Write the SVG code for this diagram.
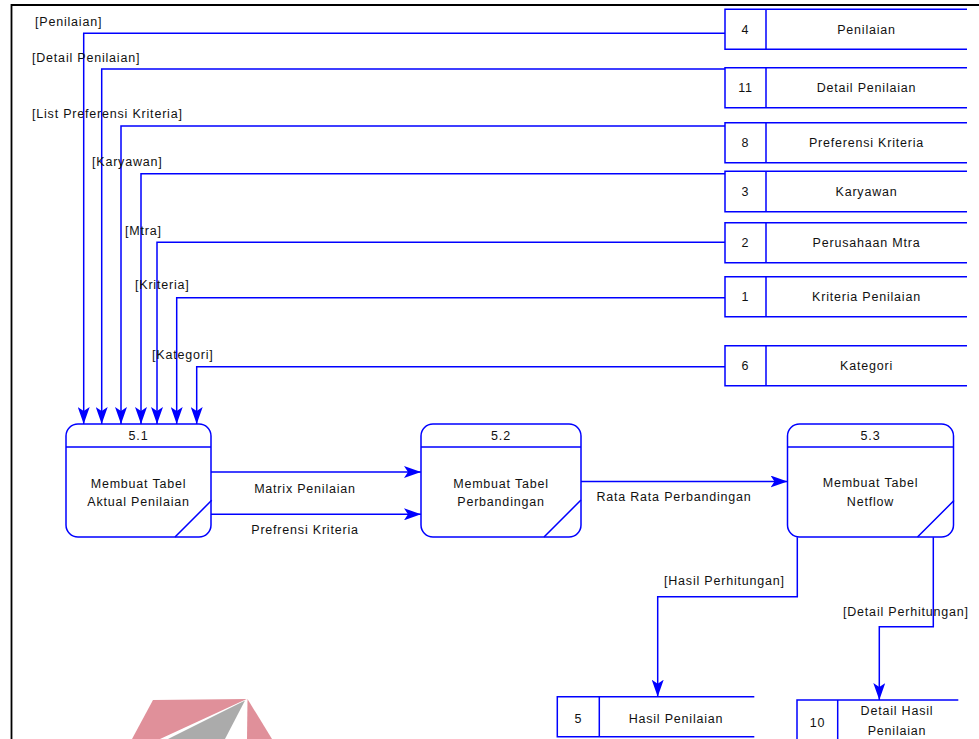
<svg xmlns="http://www.w3.org/2000/svg" width="979" height="739" viewBox="0 0 979 739">
  <style>
    .frame { fill: none; stroke: #000; stroke-width: 1.8; }
    .flow { fill: none; stroke: #0000ff; stroke-width: 1.5; }
    .arrowed { marker-end: url(#arrow); }
    .proc { fill: #fff; stroke: #0000ff; stroke-width: 1.5; }
    .edge { fill: none; stroke: #0000ff; stroke-width: 1.5; }
    .store { fill: none; stroke: #0000ff; stroke-width: 1.5; }
    text { font-family: "Liberation Sans", Arial, sans-serif; font-size: 12.5px; letter-spacing: 0.8px; fill: #111; }
    .c { text-anchor: middle; }
    .logo-red { fill: #e0909a; }
    .logo-grey { fill: #ababab; }
  </style>
  <defs>
    <marker id="arrow" viewBox="0 0 17 12" refX="17" refY="6" markerWidth="17" markerHeight="12" markerUnits="userSpaceOnUse" orient="auto">
      <path d="M0,0 L17,6 L0,12 L4,6 Z" fill="#0000ff"/>
    </marker>
  </defs>

  <!-- page frame -->
  <path class="frame" d="M11.5,739 V5 H979"/>

  <!-- watermark emblem at bottom edge -->
  <g id="emblem">
    <path class="logo-red" d="M153,700 L246.7,699 L160,739 L132,739 Z"/>
    <path class="logo-grey" d="M245,700.5 L225,739 L168,739 Z"/>
    <path class="logo-red" d="M247.5,699 L272,739 L247,739 Z"/>
  </g>

  <!-- data flows -->
  <g id="connectors">
    <path class="flow arrowed" d="M725,33.3 H83.7 V424"/>
    <path class="flow arrowed" d="M725,69 H101.7 V424"/>
    <path class="flow arrowed" d="M725,126 H121 V424"/>
    <path class="flow arrowed" d="M725,173.7 H141 V424"/>
    <path class="flow arrowed" d="M725,242.3 H157 V424"/>
    <path class="flow arrowed" d="M725,297.7 H176.7 V424"/>
    <path class="flow arrowed" d="M725,366.7 H196.7 V424"/>
    <path class="flow arrowed" d="M211,472 H421"/>
    <path class="flow arrowed" d="M211,514.3 H421"/>
    <path class="flow arrowed" d="M581,481.5 H787.5"/>
    <path class="flow arrowed" d="M797.3,537.3 V596.7 H657.7 V696.7"/>
    <path class="flow arrowed" d="M933.3,537.3 V626.7 H879.3 V700"/>

    <text x="35" y="25.5">[Penilaian]</text>
    <text x="32" y="62">[Detail Penilaian]</text>
    <text x="32" y="117.5">[List Preferensi Kriteria]</text>
    <text x="92" y="165.5">[Karyawan]</text>
    <text x="125" y="234.5">[Mtra]</text>
    <text x="135" y="289">[Kriteria]</text>
    <text x="152" y="359">[Kategori]</text>
    <text class="c" x="305" y="493.3">Matrix Penilaian</text>
    <text class="c" x="305" y="534">Prefrensi Kriteria</text>
    <text class="c" x="674" y="501">Rata Rata Perbandingan</text>
    <text x="664" y="585">[Hasil Perhitungan]</text>
    <text x="843" y="616">[Detail Perhitungan]</text>
  </g>

  <!-- processes -->
  <g id="p51">
    <rect class="proc" x="66" y="424" width="145" height="113" rx="12"/>
    <path class="edge" d="M66,447 H211 M175,537 L211.7,500.3"/>
    <text class="c" x="138.5" y="440">5.1</text>
    <text class="c" x="138.5" y="487.5">Membuat Tabel</text>
    <text class="c" x="138.5" y="505.5">Aktual Penilaian</text>
  </g>
  <g id="p52">
    <rect class="proc" x="421" y="424" width="160" height="113" rx="12"/>
    <path class="edge" d="M421,447 H581 M544,537 L581,500"/>
    <text class="c" x="501" y="440">5.2</text>
    <text class="c" x="501" y="487.5">Membuat Tabel</text>
    <text class="c" x="501" y="505.5">Perbandingan</text>
  </g>
  <g id="p53">
    <rect class="proc" x="787.5" y="424" width="166" height="113" rx="12"/>
    <path class="edge" d="M787.5,447 H953.5 M917.5,537 L954,500.5"/>
    <text class="c" x="870.5" y="440">5.3</text>
    <text class="c" x="870.5" y="487">Membuat Tabel</text>
    <text class="c" x="870.5" y="505.5">Netflow</text>
  </g>

  <!-- data stores -->
  <g id="ds4">
    <path class="store" d="M967,9.3 H725 V49.3 H967 M766,9.3 V49.3"/>
    <text class="c" x="745.5" y="33.8">4</text>
    <text class="c" x="866.5" y="33.8">Penilaian</text>
  </g>
  <g id="ds11">
    <path class="store" d="M967,67.7 H725 V107.7 H967 M766,67.7 V107.7"/>
    <text class="c" x="745.5" y="92.2">11</text>
    <text class="c" x="866.5" y="92.2">Detail Penilaian</text>
  </g>
  <g id="ds8">
    <path class="store" d="M967,122.7 H725 V162.7 H967 M766,122.7 V162.7"/>
    <text class="c" x="745.5" y="147.2">8</text>
    <text class="c" x="866.5" y="147.2">Preferensi Kriteria</text>
  </g>
  <g id="ds3">
    <path class="store" d="M967,171.3 H725 V211.8 H967 M766,171.3 V211.8"/>
    <text class="c" x="745.5" y="196">3</text>
    <text class="c" x="866.5" y="196">Karyawan</text>
  </g>
  <g id="ds2">
    <path class="store" d="M967,222.7 H725 V262.7 H967 M766,222.7 V262.7"/>
    <text class="c" x="745.5" y="247.2">2</text>
    <text class="c" x="866.5" y="247.2">Perusahaan Mtra</text>
  </g>
  <g id="ds1">
    <path class="store" d="M967,276.7 H725 V316.7 H967 M766,276.7 V316.7"/>
    <text class="c" x="745.5" y="301.2">1</text>
    <text class="c" x="866.5" y="301.2">Kriteria Penilaian</text>
  </g>
  <g id="ds6">
    <path class="store" d="M967,345.7 H725 V385.7 H967 M766,345.7 V385.7"/>
    <text class="c" x="745.5" y="370.2">6</text>
    <text class="c" x="866.5" y="370.2">Kategori</text>
  </g>
  <g id="ds5">
    <path class="store" d="M754.3,696.7 H557.3 V736.7 H754.3 M599.3,696.7 V736.7"/>
    <text class="c" x="578.3" y="722.5">5</text>
    <text class="c" x="676" y="722.5">Hasil Penilaian</text>
  </g>
  <g id="ds10">
    <path class="store" d="M958.3,700 H797 V745 M837.7,700 V745"/>
    <text class="c" x="817.5" y="726.5">10</text>
    <text class="c" x="897" y="715">Detail Hasil</text>
    <text class="c" x="897" y="735">Penilaian</text>
  </g>
</svg>
